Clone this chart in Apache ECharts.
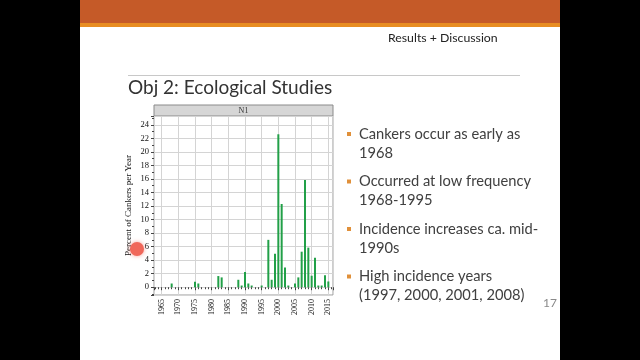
<!DOCTYPE html>
<html>
<head>
<meta charset="utf-8">
<script src="https://cdn.jsdelivr.net/npm/echarts@6/dist/echarts.min.js"></script>
<style>
  html, body { margin: 0; padding: 0; background: #000; }
  #chart { width: 640px; height: 360px; }
</style>
</head>
<body>
<div id="chart"></div>
<script>
// canker data
var years = [1968, 1975, 1976, 1982, 1983, 1988, 1989, 1990, 1991, 1992, 1995,
             1997, 1998, 1999, 2000, 2001, 2002, 2003, 2005, 2006, 2007, 2008,
             2009, 2010, 2011, 2012, 2013, 2014, 2015];
var percents = [0.55, 0.8, 0.55, 1.65, 1.45, 1.1, 0.25, 2.25, 0.55, 0.25, 0.25,
                7.0, 1.1, 4.95, 22.6, 12.3, 2.9, 0.25, 0.55, 1.45, 5.25, 15.85,
                5.85, 1.7, 4.35, 0.25, 0.25, 1.75, 0.85];
var bullets = [
    ['Cankers occur as early as', '1968'],
    ['Occurred at low frequency', '1968-1995'],
    ['Incidence increases ca. mid-', '1990s'],
    ['High incidence years', '(1997, 2000, 2001, 2008)']
];

var chart = echarts.init(document.getElementById('chart'));

var serif = '"Liberation Serif", "DejaVu Serif", serif';
var sans = 'Lato, "Open Sans", sans-serif';

var graphics = [
    { type: 'rect', shape: { x: 80, y: 0, width: 480, height: 360 }, style: { fill: '#ffffff' }, z: -10 },
    { type: 'rect', shape: { x: 80, y: 0, width: 480, height: 23 }, style: { fill: '#c55a28' } },
    { type: 'rect', shape: { x: 80, y: 23, width: 480, height: 4 }, style: { fill: '#e88d22' } },
    { type: 'text', style: { text: 'Results + Discussion', x: 388, y: 38, fontSize: 12.3, fontFamily: sans, fill: '#222', verticalAlign: 'middle' } },
    { type: 'line', shape: { x1: 128, y1: 75.5, x2: 520, y2: 75.5 }, style: { stroke: '#c8c8c8', lineWidth: 1 } },
    { type: 'text', style: { text: 'Obj 2: Ecological Studies', x: 128, y: 88, fontSize: 19, fontFamily: sans, fill: '#333', verticalAlign: 'middle' } },
    // facet strip
    { type: 'rect', shape: { x: 154, y: 105, width: 179, height: 11 }, style: { fill: '#d6d6d6', stroke: '#8a8a8a', lineWidth: 1 } },
    { type: 'text', style: { text: 'N1', x: 243.5, y: 110.5, fontSize: 8, fontFamily: serif, fill: '#333', align: 'center', verticalAlign: 'middle' } },
    { type: 'text', style: { text: '17', x: 543, y: 303, fontSize: 12, fontFamily: sans, fill: '#8a8a8a', verticalAlign: 'middle' } },
    // pointer dot
    { type: 'circle', shape: { cx: 137, cy: 249, r: 7 }, style: { fill: '#f0675a', shadowBlur: 4, shadowColor: 'rgba(240,103,90,0.6)' }, z: 100 }
];

var bulletY = [134, 181.5, 229, 276.5];
bullets.forEach(function (b, i) {
    graphics.push({ type: 'rect', shape: { x: 347, y: bulletY[i] - 2, width: 4, height: 4 }, style: { fill: '#e0903a' } });
    graphics.push({ type: 'text', style: { text: b[0], x: 359, y: bulletY[i], fontSize: 14.7, fontFamily: sans, fill: '#404040', verticalAlign: 'middle' } });
    graphics.push({ type: 'text', style: { text: b[1], x: 359, y: bulletY[i] + 19, fontSize: 14.7, fontFamily: sans, fill: '#404040', verticalAlign: 'middle' } });
});

var option = {
    backgroundColor: '#000000',
    animation: false,
    graphic: graphics,
    grid: {
        left: 154,
        right: 307,
        top: 116,
        bottom: 65,
        show: true,
        backgroundColor: '#ffffff',
        borderColor: '#9a9a9a',
        borderWidth: 1
    },
    xAxis: {
        type: 'value',
        min: 1962.7,
        max: 2016.4,
        splitNumber: 10,
        axisLine: { show: false },
        axisTick: { show: true, length: 3, lineStyle: { color: '#444' } },
        minorTick: { show: true, splitNumber: 5, length: 2, lineStyle: { color: '#444' } },
        splitLine: { show: true, lineStyle: { color: '#d4d4d4' } },
        axisLabel: {
            rotate: 90,
            showMinLabel: false,
            showMaxLabel: false,
            fontSize: 8,
            fontFamily: serif,
            color: '#111',
            margin: 4,
            formatter: function (v) { return v % 5 === 0 ? String(v) : ''; }
        }
    },
    yAxis: {
        type: 'value',
        min: -1.15,
        max: 25.3,
        splitNumber: 12,
        name: 'Percent of Cankers per Year',
        nameLocation: 'middle',
        nameRotate: 90,
        nameGap: 21,
        nameTextStyle: { fontSize: 9, fontFamily: serif, color: '#111' },
        axisLine: { show: false },
        axisTick: { show: true, length: 3, lineStyle: { color: '#444' } },
        minorTick: { show: true, splitNumber: 2, length: 2, lineStyle: { color: '#444' } },
        splitLine: { show: true, lineStyle: { color: '#d4d4d4' } },
        axisLabel: {
            showMinLabel: false,
            showMaxLabel: false,
            fontSize: 8.5,
            fontFamily: serif,
            color: '#111',
            margin: 5,
            formatter: function (v) { return v % 2 === 0 ? String(v) : ''; }
        }
    },
    series: [{
        type: 'bar',
        barWidth: 2,
        itemStyle: { color: '#22a048' },
        data: years.map(function (y, i) { return [y, percents[i]]; })
    }]
};

chart.setOption(option);
</script>
</body>
</html>
